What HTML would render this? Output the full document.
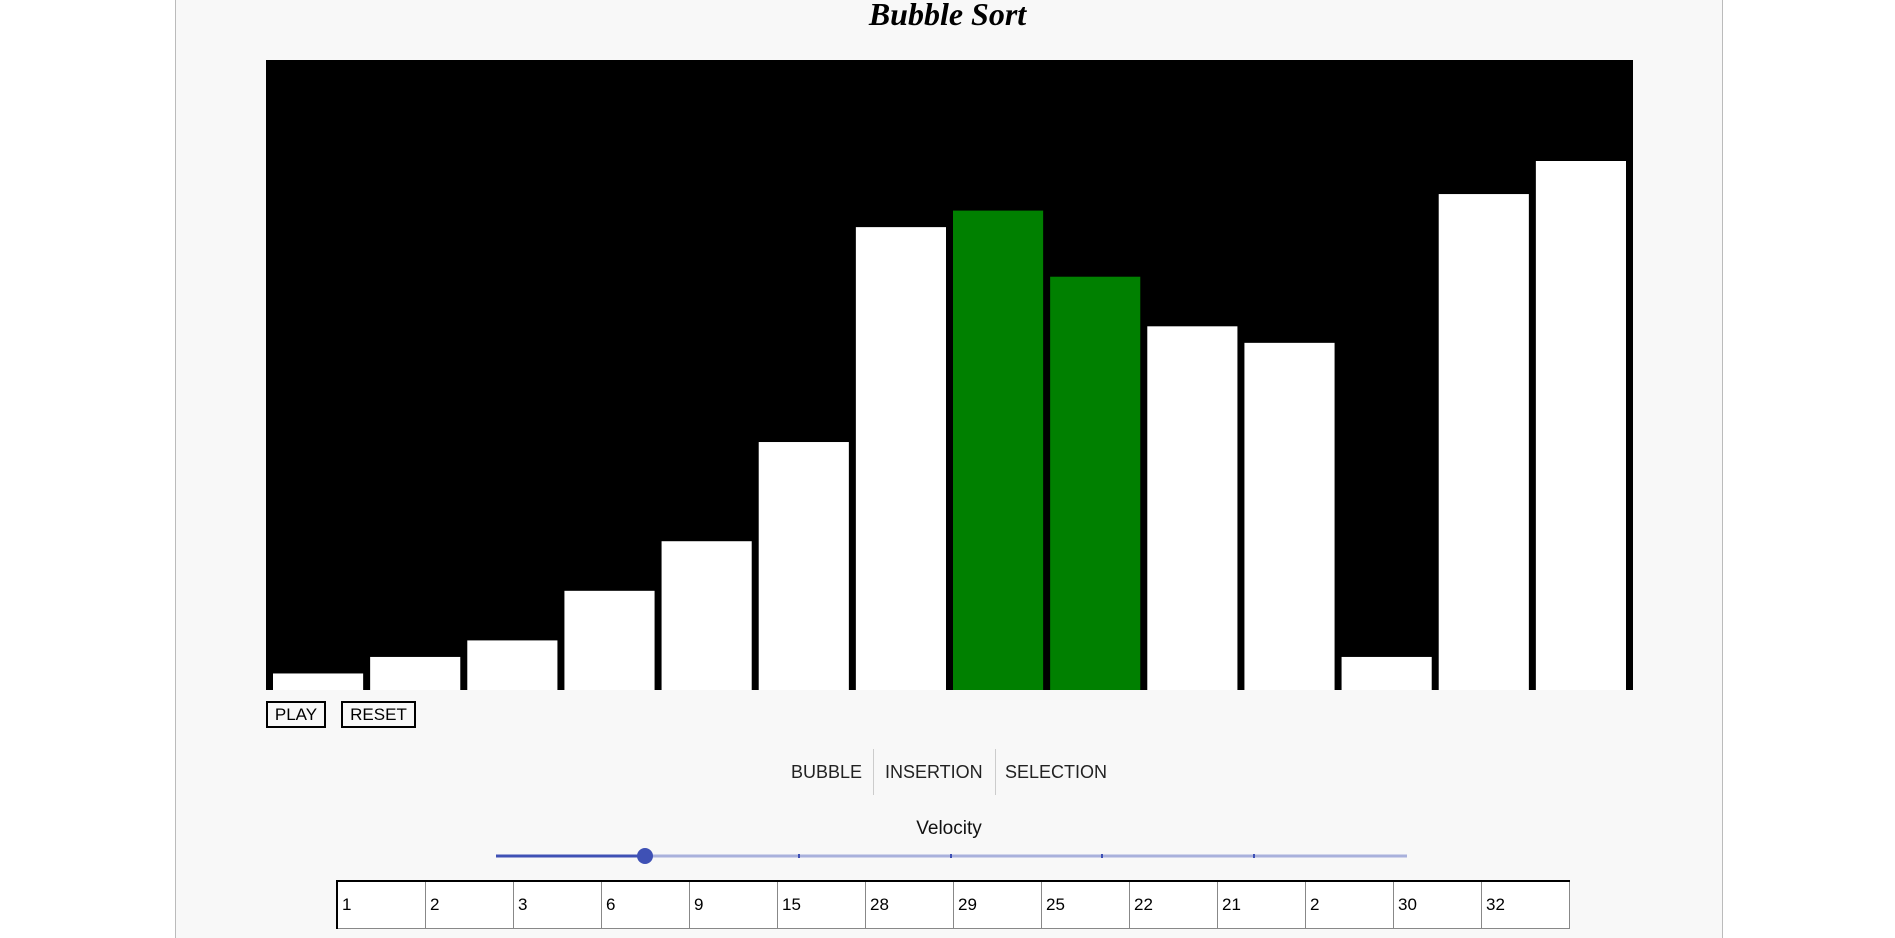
<!DOCTYPE html>
<html><head><style>
body{margin:0;width:1895px;height:933px;background:#fff;font-family:"Liberation Sans",sans-serif;overflow:hidden;position:relative}
.abs{position:absolute}
#container{left:175px;top:-2px;width:1546px;height:940px;background:#f8f8f8;border-left:1px solid #bbb;border-right:1px solid #bbb}
#title{left:0;width:1895px;top:-4px;text-align:center;font:italic bold 32px "Liberation Serif",cursive;color:#000}
#chart{left:266px;top:60px;width:1367px;height:630px;background:#000}
.btn{top:701px;height:23px;border:2px solid #000;background:#f8f8f8;font-size:17px;line-height:23px;text-align:center;color:#000}
.tab{top:762px;font-size:18px;color:#222}
.sep{top:749px;width:1px;height:46px;background:#ccc}
table{position:absolute;left:336px;top:880px;border-collapse:collapse;border-top:2px solid #000;border-left:2px solid #000}
td{width:83px;height:46px;border:1px solid #888;background:#fff;font-size:17px;padding:0 0 0 4px;color:#000}
</style></head><body>
<div class="abs" id="container"></div>
<div class="abs" id="title">Bubble Sort</div>
<svg class="abs" id="chart" width="1367" height="630"></svg>
<div class="abs btn" style="left:266px;width:56px">PLAY</div>
<div class="abs btn" style="left:341px;width:71px">RESET</div>
<div class="abs tab" style="left:791px">BUBBLE</div>
<div class="abs sep" style="left:873px"></div>
<div class="abs tab" style="left:885px">INSERTION</div>
<div class="abs sep" style="left:995px"></div>
<div class="abs tab" style="left:1005px">SELECTION</div>
<div class="abs" style="left:849px;width:200px;top:818px;text-align:center;font-size:19px;color:#111">Velocity</div>
<svg class="abs" style="left:490px;top:845px" width="925" height="22">
<line x1="6" y1="11" x2="917" y2="11" stroke="#a9b1dc" stroke-width="3"/>
<line x1="6" y1="11" x2="155" y2="11" stroke="#3f51b5" stroke-width="3"/>
<g fill="#3f51b5"><rect x="308" y="9" width="2" height="4"/><rect x="460" y="9" width="2" height="4"/><rect x="611" y="9" width="2" height="4"/><rect x="763" y="9" width="2" height="4"/></g>
<circle cx="155" cy="11" r="8" fill="#3f51b5"/>
</svg>
<table><tr id="row"></tr></table>
<script>
const values=[1,2,3,6,9,15,28,29,25,22,21,2,30,32];
const highlighted=[7,8];
const maxVal=32;
const chartSvg=document.getElementById('chart');
const W=1367,H=630,gap=7;
const slot=(W-gap)/values.length;
const yScale=v=>H-v*(H-101)/maxVal;
values.forEach((v,i)=>{
 const r=document.createElementNS('http://www.w3.org/2000/svg','rect');
 r.setAttribute('x',slot*i+gap);r.setAttribute('width',slot-gap);
 r.setAttribute('y',yScale(v));r.setAttribute('height',H-yScale(v));
 r.setAttribute('fill',highlighted.includes(i)?'#008000':'#fff');
 
 
 chartSvg.appendChild(r);
});
const row=document.getElementById('row');
values.forEach((v,i)=>{
 const td=document.createElement('td');td.textContent=v;
 
 
 row.appendChild(td);
});
</script>
</body></html>
